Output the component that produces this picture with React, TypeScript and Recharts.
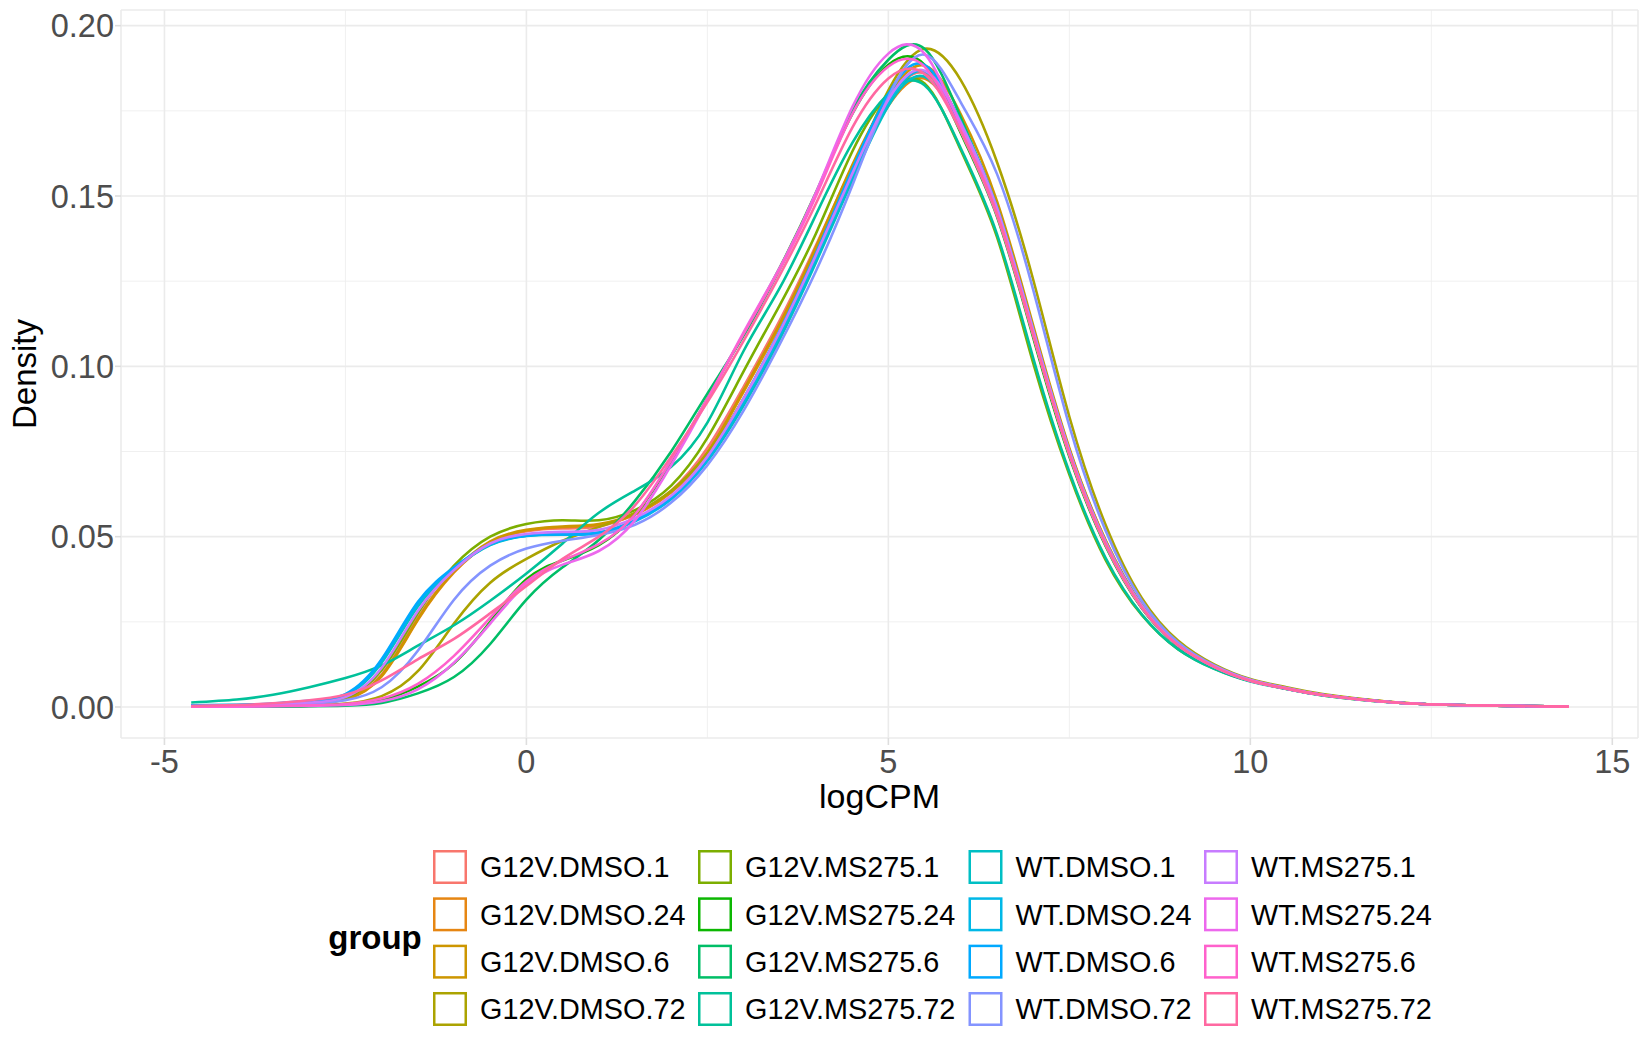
import React from 'react';
import { LineChart, Line, XAxis, YAxis, CartesianGrid } from 'recharts';

// ---------- data ----------
const X_VALUES = [-4.63, -4, -3.5, -3, -2.5, -2, -1.5, -1, -0.5, 0, 0.5, 1, 1.5, 2, 2.5, 3, 3.5, 4, 4.5, 5, 5.5, 6, 6.5, 7, 7.5, 8, 8.5, 9, 9.5, 10, 10.5, 11, 12, 13, 14.4];

const SERIES_NAMES = [
  'G12V.DMSO.1', 'G12V.DMSO.24', 'G12V.DMSO.6', 'G12V.DMSO.72',
  'G12V.MS275.1', 'G12V.MS275.24', 'G12V.MS275.6', 'G12V.MS275.72',
  'WT.DMSO.1', 'WT.DMSO.24', 'WT.DMSO.6', 'WT.DMSO.72',
  'WT.MS275.1', 'WT.MS275.24', 'WT.MS275.6', 'WT.MS275.72',
];

const SERIES_COLORS = [
  '#F8766D', '#E68613', '#CD9600', '#ABA300',
  '#7CAE00', '#0CB702', '#00BE67', '#00C19A',
  '#00BFC4', '#00B8E7', '#00A9FF', '#8494FF',
  '#C77CFF', '#ED68ED', '#FF61CC', '#FF68A1',
];

const G12V_DMSO_1 = [0.0002, 0.0003, 0.0005, 0.0010, 0.0024, 0.0095, 0.0262, 0.0398, 0.0482, 0.0516, 0.0524, 0.0530, 0.0566, 0.0635, 0.0760, 0.0940, 0.1135, 0.1355, 0.1585, 0.1780, 0.1860, 0.1713, 0.1469, 0.1111, 0.0756, 0.0488, 0.0298, 0.0184, 0.0120, 0.0079, 0.0055, 0.0036, 0.0013, 0.0005, 0.0001];
const G12V_DMSO_24 = [0.0002, 0.0003, 0.0005, 0.0010, 0.0022, 0.0090, 0.0255, 0.0395, 0.0482, 0.0518, 0.0528, 0.0534, 0.0565, 0.0630, 0.0748, 0.0925, 0.1120, 0.1340, 0.1570, 0.1765, 0.1845, 0.1705, 0.1463, 0.1108, 0.0754, 0.0487, 0.0298, 0.0183, 0.0120, 0.0079, 0.0055, 0.0036, 0.0013, 0.0005, 0.0001];
const G12V_DMSO_6 = [0.0002, 0.0003, 0.0005, 0.0010, 0.0023, 0.0092, 0.0258, 0.0398, 0.0486, 0.0520, 0.0530, 0.0537, 0.0568, 0.0632, 0.0745, 0.0930, 0.1125, 0.1350, 0.1590, 0.1792, 0.1883, 0.1740, 0.1485, 0.1120, 0.0760, 0.0490, 0.0300, 0.0185, 0.0121, 0.0080, 0.0056, 0.0036, 0.0014, 0.0005, 0.0001];
const G12V_DMSO_72 = [0.0001, 0.0001, 0.0002, 0.0004, 0.0010, 0.0032, 0.0105, 0.0245, 0.0365, 0.0435, 0.0488, 0.0528, 0.0570, 0.0635, 0.0745, 0.0905, 0.1100, 0.1320, 0.1570, 0.1810, 0.1932, 0.1840, 0.1600, 0.1255, 0.0852, 0.0535, 0.0320, 0.0195, 0.0125, 0.0082, 0.0058, 0.0038, 0.0014, 0.0005, 0.0001];
const G12V_MS275_1 = [0.0002, 0.0003, 0.0005, 0.0011, 0.0027, 0.0108, 0.0275, 0.0415, 0.0500, 0.0537, 0.0548, 0.0548, 0.0578, 0.0650, 0.0790, 0.0985, 0.1180, 0.1390, 0.1630, 0.1800, 0.1830, 0.1635, 0.1380, 0.1010, 0.0682, 0.0432, 0.0270, 0.0170, 0.0113, 0.0076, 0.0053, 0.0034, 0.0013, 0.0005, 0.0001];
const G12V_MS275_24 = [0.0001, 0.0001, 0.0002, 0.0003, 0.0007, 0.0020, 0.0060, 0.0128, 0.0250, 0.0375, 0.0430, 0.0475, 0.0565, 0.0720, 0.0905, 0.1095, 0.1290, 0.1510, 0.1740, 0.1885, 0.1885, 0.1685, 0.1440, 0.1085, 0.0735, 0.0473, 0.0290, 0.0180, 0.0118, 0.0077, 0.0054, 0.0035, 0.0013, 0.0005, 0.0001];
const G12V_MS275_6 = [0.0001, 0.0001, 0.0001, 0.0002, 0.0004, 0.0012, 0.0040, 0.0088, 0.0185, 0.0315, 0.0410, 0.0490, 0.0605, 0.0750, 0.0920, 0.1090, 0.1285, 0.1505, 0.1750, 0.1900, 0.1932, 0.1730, 0.1462, 0.1100, 0.0745, 0.0479, 0.0293, 0.0180, 0.0118, 0.0077, 0.0054, 0.0035, 0.0013, 0.0005, 0.0001];
const G12V_MS275_72 = [0.0013, 0.0022, 0.0036, 0.0058, 0.0085, 0.0122, 0.0180, 0.0240, 0.0312, 0.0392, 0.0480, 0.0570, 0.0635, 0.0705, 0.0835, 0.1045, 0.1230, 0.1445, 0.1655, 0.1800, 0.1825, 0.1640, 0.1388, 0.1025, 0.0690, 0.0438, 0.0272, 0.0170, 0.0112, 0.0075, 0.0053, 0.0034, 0.0013, 0.0005, 0.0001];
const WT_DMSO_1 = [0.0005, 0.0006, 0.0009, 0.0016, 0.0034, 0.0130, 0.0295, 0.0405, 0.0475, 0.0502, 0.0506, 0.0512, 0.0548, 0.0612, 0.0722, 0.0885, 0.1080, 0.1305, 0.1545, 0.1765, 0.1850, 0.1700, 0.1455, 0.1100, 0.0748, 0.0482, 0.0295, 0.0182, 0.0119, 0.0078, 0.0054, 0.0035, 0.0013, 0.0005, 0.0001];
const WT_DMSO_24 = [0.0005, 0.0006, 0.0009, 0.0017, 0.0036, 0.0136, 0.0302, 0.0408, 0.0477, 0.0503, 0.0506, 0.0510, 0.0545, 0.0610, 0.0725, 0.0895, 0.1092, 0.1318, 0.1558, 0.1775, 0.1866, 0.1718, 0.1467, 0.1107, 0.0751, 0.0484, 0.0296, 0.0183, 0.0119, 0.0078, 0.0054, 0.0035, 0.0013, 0.0005, 0.0001];
const WT_DMSO_6 = [0.0005, 0.0006, 0.0010, 0.0018, 0.0038, 0.0140, 0.0308, 0.0410, 0.0478, 0.0503, 0.0507, 0.0512, 0.0548, 0.0615, 0.0732, 0.0905, 0.1105, 0.1332, 0.1578, 0.1800, 0.1885, 0.1712, 0.1460, 0.1102, 0.0749, 0.0482, 0.0295, 0.0182, 0.0119, 0.0078, 0.0054, 0.0035, 0.0013, 0.0005, 0.0001];
const WT_DMSO_72 = [0.0002, 0.0003, 0.0005, 0.0010, 0.0020, 0.0058, 0.0165, 0.0315, 0.0415, 0.0465, 0.0488, 0.0505, 0.0535, 0.0600, 0.0710, 0.0870, 0.1065, 0.1280, 0.1530, 0.1790, 0.1915, 0.1775, 0.1565, 0.1225, 0.0825, 0.0518, 0.0312, 0.0190, 0.0122, 0.0080, 0.0056, 0.0036, 0.0013, 0.0005, 0.0001];
const WT_MS275_1 = [0.0003, 0.0004, 0.0007, 0.0013, 0.0029, 0.0115, 0.0282, 0.0402, 0.0480, 0.0508, 0.0514, 0.0520, 0.0555, 0.0620, 0.0735, 0.0905, 0.1102, 0.1327, 0.1565, 0.1783, 0.1868, 0.1715, 0.1465, 0.1107, 0.0752, 0.0485, 0.0297, 0.0183, 0.0120, 0.0079, 0.0055, 0.0035, 0.0013, 0.0005, 0.0001];
const WT_MS275_24 = [0.0001, 0.0001, 0.0002, 0.0003, 0.0006, 0.0017, 0.0052, 0.0130, 0.0245, 0.0360, 0.0418, 0.0458, 0.0548, 0.0710, 0.0900, 0.1100, 0.1290, 0.1510, 0.1760, 0.1918, 0.1918, 0.1705, 0.1450, 0.1095, 0.0742, 0.0477, 0.0292, 0.0181, 0.0118, 0.0077, 0.0054, 0.0035, 0.0013, 0.0005, 0.0001];
const WT_MS275_6 = [0.0001, 0.0002, 0.0003, 0.0005, 0.0009, 0.0025, 0.0068, 0.0150, 0.0262, 0.0368, 0.0430, 0.0478, 0.0565, 0.0725, 0.0905, 0.1095, 0.1285, 0.1500, 0.1740, 0.1880, 0.1880, 0.1690, 0.1443, 0.1092, 0.0741, 0.0477, 0.0292, 0.0181, 0.0118, 0.0077, 0.0054, 0.0035, 0.0013, 0.0005, 0.0001];
const WT_MS275_72 = [0.0003, 0.0006, 0.0011, 0.0020, 0.0036, 0.0078, 0.0140, 0.0200, 0.0275, 0.0355, 0.0435, 0.0500, 0.0592, 0.0735, 0.0895, 0.1075, 0.1268, 0.1478, 0.1700, 0.1845, 0.1858, 0.1690, 0.1447, 0.1094, 0.0743, 0.0479, 0.0293, 0.0181, 0.0118, 0.0077, 0.0054, 0.0035, 0.0013, 0.0005, 0.0001];

const SERIES_VALUES = [
  G12V_DMSO_1, G12V_DMSO_24, G12V_DMSO_6, G12V_DMSO_72,
  G12V_MS275_1, G12V_MS275_24, G12V_MS275_6, G12V_MS275_72,
  WT_DMSO_1, WT_DMSO_24, WT_DMSO_6, WT_DMSO_72,
  WT_MS275_1, WT_MS275_24, WT_MS275_6, WT_MS275_72,
];

const X_TICKS = [-5, 0, 5, 10, 15];
const X_MINOR = [-2.5, 2.5, 7.5, 12.5];
const Y_TICKS = [0, 0.05, 0.1, 0.15, 0.2];
const Y_MINOR = [0.025, 0.075, 0.125, 0.175];

const X_LABEL = 'logCPM';
const Y_LABEL = 'Density';
const LEGEND_TITLE = 'group';

// ---------- layout ----------
const W = 1634;
const H = 1034;
const FONT = '"Liberation Sans", Arial, Helvetica, sans-serif';
const LEGEND_COL_X = [425, 690, 960.5, 1196];
const LEGEND_ROW_TOP = 842;
const LEGEND_ROW_STEP = 47.33;
const LEGEND_KEY = 34;

const chartData = X_VALUES.map((x, i) => {
  const row: Record<string, number> = { x };
  SERIES_VALUES.forEach((vals, s) => {
    row['s' + s] = vals[i];
  });
  return row;
});

const tickStyle = { fill: '#4D4D4D', fontSize: 32.5, fontFamily: FONT };
const tickLineStyle = { stroke: '#DEDEDE', strokeWidth: 1.6 };

export default function App() {
  return (
    <div style={{ position: 'relative', width: W, height: H, fontFamily: FONT }}>
      <LineChart
        width={W}
        height={H}
        data={chartData}
        margin={{ top: 2, right: 4, bottom: 244, left: 0 }}
      >
        <CartesianGrid
          stroke="#EEEEEE"
          strokeWidth={0.9}
          horizontalValues={Y_MINOR}
          verticalValues={X_MINOR}
        />
        <CartesianGrid stroke="#EBEBEB" strokeWidth={1.6} />
        <XAxis
          type="number"
          dataKey="x"
          domain={[-5.6, 15.355]}
          ticks={X_TICKS}
          interval={0}
          allowDataOverflow
          axisLine={false}
          tickLine={tickLineStyle}
          tickSize={7}
          tickMargin={5}
          height={60}
          tick={tickStyle}
        />
        <YAxis
          type="number"
          domain={[-0.0091, 0.2046]}
          ticks={Y_TICKS}
          interval={0}
          allowDataOverflow
          axisLine={false}
          tickLine={tickLineStyle}
          tickSize={6}
          tickMargin={1}
          width={113}
          tick={tickStyle}
          tickFormatter={(v: number) => v.toFixed(2)}
        />
        {SERIES_NAMES.map((name, s) => (
          <Line
            key={name}
            type="natural"
            dataKey={'s' + s}
            name={name}
            stroke={SERIES_COLORS[s]}
            strokeWidth={2.6}
            dot={false}
            activeDot={false}
            isAnimationActive={false}
          />
        ))}
      </LineChart>
      <svg
        width={W}
        height={H}
        style={{ position: 'absolute', left: 0, top: 0, pointerEvents: 'none', overflow: 'visible' }}
        fontFamily={FONT}
      >
        <text x={871.5} y={800} textAnchor="middle" fontSize={34} fill="#000">
          {X_LABEL}
        </text>
        <text
          x={27.5}
          y={366}
          textAnchor="middle"
          fontSize={33}
          fill="#000"
          transform="rotate(-90, 27.5, 366)"
        >
          {Y_LABEL}
        </text>
        <text x={320.3} y={941} fontSize={33} fontWeight="bold" fill="#000">
          {LEGEND_TITLE}
        </text>
        {SERIES_NAMES.map((name, s) => {
          const col = Math.floor(s / 4);
          const row = s % 4;
          const bx = LEGEND_COL_X[col];
          const by = LEGEND_ROW_TOP + row * LEGEND_ROW_STEP;
          return (
            <g key={name}>
              <rect
                x={bx + 1.25}
                y={by + 1.25}
                width={LEGEND_KEY - 2.5}
                height={LEGEND_KEY - 2.5}
                fill="none"
                stroke={SERIES_COLORS[s]}
                strokeWidth={2.5}
              />
              <text x={bx + 47} y={by + 27.3} fontSize={28.8} fill="#000">
                {name}
              </text>
            </g>
          );
        })}
      </svg>
    </div>
  );
}
